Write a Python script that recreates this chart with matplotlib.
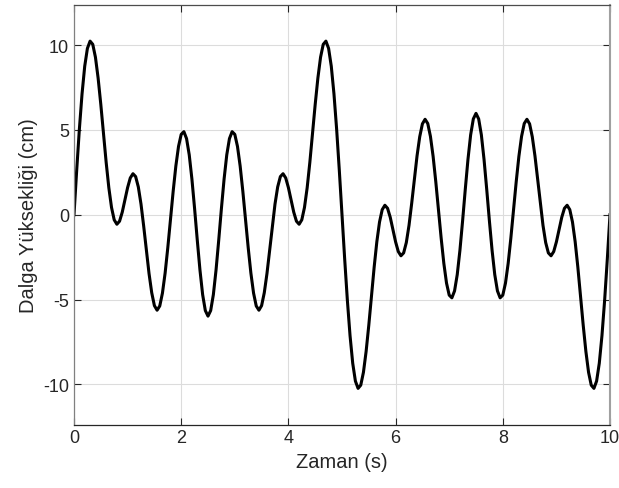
import numpy as np
import matplotlib
matplotlib.use("Agg")
import matplotlib.pyplot as plt

# Sampling times (s), step 0.05 s
time_step = 0.05
# Wave height (cm) at each sample time
wave_height = [
    0.00, 2.61, 5.04, 7.13, 8.76, 9.81, 10.24, 10.05, 9.29, 8.06,
    6.51, 4.79, 3.09, 1.59, 0.43, -0.30, -0.56, -0.38, 0.15, 0.87,
    1.60, 2.17, 2.42, 2.25, 1.64, 0.63, -0.67, -2.09, -3.47, -4.60,
    -5.36, -5.63, -5.38, -4.62, -3.44, -1.94, -0.28, 1.38, 2.87, 4.03,
    4.74, 4.90, 4.49, 3.53, 2.10, 0.36, -1.50, -3.26, -4.71, -5.65,
    -5.98, -5.65, -4.71, -3.26, -1.50, 0.36, 2.10, 3.53, 4.49, 4.90,
    4.74, 4.03, 2.87, 1.38, -0.28, -1.94, -3.44, -4.62, -5.38, -5.63,
    -5.36, -4.60, -3.47, -2.09, -0.67, 0.63, 1.64, 2.25, 2.42, 2.17,
    1.60, 0.87, 0.15, -0.38, -0.56, -0.30, 0.43, 1.59, 3.09, 4.79,
    6.51, 8.06, 9.29, 10.05, 10.24, 9.81, 8.76, 7.13, 5.04, 2.61,
    0.00, -2.61, -5.04, -7.13, -8.76, -9.81, -10.24, -10.05, -9.29, -8.06,
    -6.51, -4.79, -3.09, -1.59, -0.43, 0.30, 0.56, 0.38, -0.15, -0.87,
    -1.60, -2.17, -2.42, -2.25, -1.64, -0.63, 0.67, 2.09, 3.47, 4.60,
    5.36, 5.63, 5.38, 4.62, 3.44, 1.94, 0.28, -1.38, -2.87, -4.03,
    -4.74, -4.90, -4.49, -3.53, -2.10, -0.36, 1.50, 3.26, 4.71, 5.65,
    5.98, 5.65, 4.71, 3.26, 1.50, -0.36, -2.10, -3.53, -4.49, -4.90,
    -4.74, -4.03, -2.87, -1.38, 0.28, 1.94, 3.44, 4.62, 5.38, 5.63,
    5.36, 4.60, 3.47, 2.09, 0.67, -0.63, -1.64, -2.25, -2.42, -2.17,
    -1.60, -0.87, -0.15, 0.38, 0.56, 0.30, -0.43, -1.59, -3.09, -4.79,
    -6.51, -8.06, -9.29, -10.05, -10.24, -9.81, -8.76, -7.13, -5.04, -2.61,
    0.00,
]
x_ticks = [0, 2, 4, 6, 8, 10]
y_ticks = [-10, -5, 0, 5, 10]
x_label = 'Zaman (s)'
y_label = 'Dalga Yüksekliği (cm)'

time = np.arange(len(wave_height)) * time_step

plt.rcParams['font.family'] = ['Liberation Sans', 'DejaVu Sans']
plt.rcParams['axes.unicode_minus'] = False

fig = plt.figure(figsize=(6.19, 4.89), dpi=100)
ax = fig.add_axes([74/619, 1-425.5/489, 536/619, 419.5/489])
ax.plot(time, wave_height, color='black', lw=2.2, solid_joinstyle='round')
ax.set_xlim(0, 10)
ax.set_ylim(-12.37, 12.37)
ax.set_xticks(x_ticks)
ax.set_yticks(y_ticks)
ax.grid(True, color='#dcdcdc', lw=0.8)
ax.set_axisbelow(True)
ax.tick_params(direction='in', top=True, right=True, labelsize=13,
               colors='#262626', length=5, width=0.8)
ax.spines['bottom'].set_color('#262626')
ax.spines['top'].set_color('#4d4d4d')
ax.spines['left'].set_color('#808080')
ax.spines['right'].set_color('#a0a0a0')
for name in ['bottom', 'top', 'left']:
    ax.spines[name].set_linewidth(0.9)
ax.spines['right'].set_linewidth(1.5)
ax.set_xlabel(x_label, fontsize=14.5, color='#262626')
ax.set_ylabel(y_label, fontsize=14.5, color='#262626')
fig.savefig("out.png")
